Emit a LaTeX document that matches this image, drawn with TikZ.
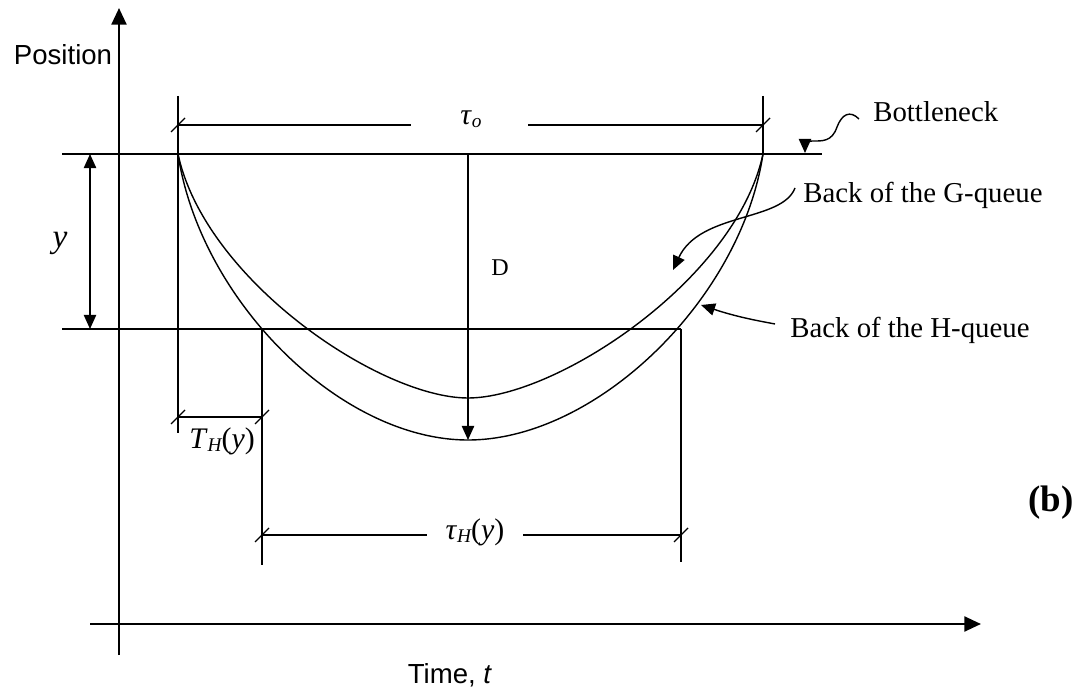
\documentclass[tikz,border=0pt]{standalone}
\usepackage{fontspec}
\setmainfont{Liberation Serif}
\newfontfamily\arialfont{Liberation Sans}
\usetikzlibrary{arrows.meta}
\newcommand{\lowsub}[1]{\raisebox{-0.22ex}{\fontsize{11}{11}\selectfont\itshape #1}}

\begin{document}
\begin{tikzpicture}[x=0.02cm, y=-0.02cm]
    \tikzstyle{axisarrow}=[line width=1.45pt, -{Triangle[length=9.5pt, width=8.5pt]}]
    \tikzstyle{ln}=[line width=0.8pt]
    \tikzstyle{tip}=[-{Triangle[length=8pt, width=7pt]}]
    \tikzstyle{serif}=[inner sep=0pt, font=\fontsize{16.4}{19}\selectfont]
    \tikzstyle{mlbl}=[inner sep=0pt, font=\fontsize{17}{20}\selectfont]
    \tikzstyle{sanslbl}=[inner sep=0pt, font=\arialfont\fontsize{15.7}{19}\selectfont]
    \useasboundingbox (0,0) rectangle (1083,689);
    % axes
    \coordinate (ybot) at (119,655);
    \coordinate (ytop) at (119,8);
    \coordinate (xlft) at (90,624);
    \coordinate (xtip) at (981,624);
    \draw[axisarrow] (ybot) -- (ytop);
    \draw[axisarrow] (xlft) -- (xtip);
    \node[sanslbl, anchor=base] (posl) at (63,65) {Position};
    \node[sanslbl, anchor=base] (timel) at (450,683) {Time, \textit{t}};
    % levels and queue ends
    \coordinate (bn0) at (62,154);  \coordinate (bn1) at (822,154);
    \coordinate (yl0) at (62,329);  \coordinate (yl1) at (681,329);
    \coordinate (qs) at (178,154);  \coordinate (qe) at (763,154);
    \coordinate (gmin) at (468,398);
    \coordinate (hmin) at (468,440);
    \coordinate (dtop) at (468,154);
    \draw[ln] (bn0) -- (bn1);
    \draw[ln] (yl0) -- (yl1);
    \draw[ln] (178,96) -- (178,433);
    \draw[ln] (763,96) -- (qe);
    \draw[ln] (262,329) -- (262,565);
    \draw[ln] (yl1) -- (681,562);
    % back of the queues
    \draw[ln] (qs) .. controls (205,280) and (380,398) .. (gmin)
                   .. controls (556,398) and (736,280) .. (qe);
    \draw[ln] (qs) .. controls (200,300) and (340,440) .. (hmin)
                   .. controls (596,440) and (741,300) .. (qe);
    \draw[ln, tip] (dtop) -- (hmin);
    \node[serif, font=\fontsize{13.7}{16}\selectfont] (dlbl) at (500,268) {D};
    % y
    \coordinate (ya) at (90,154);  \coordinate (yb) at (90,329);
    \draw[ln, {Triangle[length=8pt, width=7pt]}-{Triangle[length=8pt, width=7pt]}] (ya) -- (yb);
    \node[mlbl, font=\fontsize{19}{22}\selectfont\itshape] (ylbl) at (60,243) {y};
    % dimensions
    \coordinate (to1) at (178,125);  \coordinate (to2) at (763,125);
    \coordinate (th1) at (178,417);  \coordinate (th2) at (262,417);
    \coordinate (tq1) at (262,535);  \coordinate (tq2) at (681,535);
    \node[mlbl] (taulbl) at (471,119) {\textit{τ}\lowsub{o}};
    \node[mlbl] (thlbl) at (222,441) {\textit{T}\lowsub{H}(\textit{y})};
    \node[mlbl] (tqlbl) at (475,532) {\textit{τ}\lowsub{H}(\textit{y})};
    \draw[ln] (to1) -- (411,125);
    \draw[ln] (528,125) -- (to2);
    \draw[ln] (th1) -- (th2);
    \draw[ln] (tq1) -- (427,535);
    \draw[ln] (523,535) -- (tq2);
    \foreach \p in {to1,to2,th1,th2,tq1,tq2} {
      \draw[ln] (\p) ++(-7,7) -- ++(14,-14);
    }
    % labels with pointers
    \node[serif, anchor=base west] (bnlbl) at (873,122) {Bottleneck};
    \node[serif, anchor=base west] (glbl) at (803,203) {Back of the G-queue};
    \node[serif, anchor=base west] (hlbl) at (790,338) {Back of the H-queue};
    \coordinate (bntip) at (805,153);
    \coordinate (gtip) at (673,270);
    \coordinate (htip) at (701,305);
    \draw[ln, tip] (859,119) .. controls (850,110) and (842,114) .. (837,127)
                   .. controls (832,142) and (822,141) .. (812,141)
                   .. controls (807,141) and (805,145) .. (bntip);
    \draw[ln, tip] (795,188) .. controls (782,222) and (700,212) .. (gtip);
    \draw[ln, tip] (775,324) .. controls (765,322) and (740,318) .. (htip);
    \node[inner sep=0pt, font=\fontsize{21}{24}\selectfont\bfseries] (blbl) at (1051,503) {(b)};
\end{tikzpicture}
\end{document}
